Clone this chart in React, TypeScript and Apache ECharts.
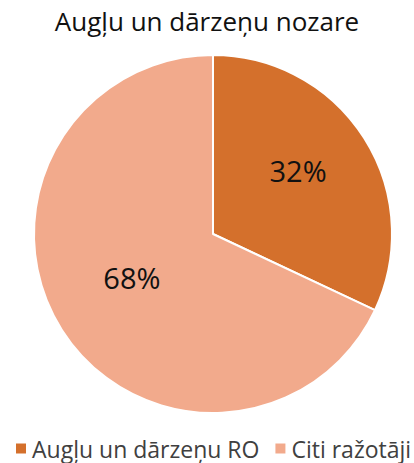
import React, { useEffect, useRef } from "react";
import * as echarts from "echarts";

const title = "Augļu un dārzeņu nozare";
const categories = ["Augļu un dārzeņu RO", "Citi ražotāji"];
const values = [32, 68];
const colors = ["#D4702C", "#F2AA8C"];

export default function App() {
  const ref = useRef<HTMLDivElement>(null);
  useEffect(() => {
    if (!ref.current) return;
    const chart = echarts.init(ref.current, null, { renderer: "svg" });
    const font = "'Open Sans', 'Noto Sans', sans-serif";
    const offsets = [[7, -14], [-3, -6]];
    chart.setOption({
      animation: false,
      title: {
        text: title,
        left: "center",
        top: 3,
        textStyle: { fontFamily: font, fontSize: 26, fontWeight: "normal", color: "#111" },
      },
      legend: {
        bottom: 3,
        left: 14,
        width: 400,
        padding: 0,
        icon: "rect",
        itemWidth: 12,
        itemHeight: 12,
        itemGap: 14,
        textStyle: { fontFamily: font, fontSize: 23, color: "#404040" },
        data: categories,
      },
      series: [
        {
          type: "pie",
          center: [213, 234],
          radius: 179,
          startAngle: 90,
          clockwise: true,
          data: categories.map((c, i) => ({
            name: c,
            value: values[i],
            itemStyle: { color: colors[i] },
            label: { offset: offsets[i] },
          })),
          itemStyle: { borderColor: "#fff", borderWidth: 2 },
          label: {
            position: "inside",
            formatter: "{d}%",
            fontFamily: font,
            fontSize: 29,
            color: "#111",
          },
          labelLine: { show: false },
        },
      ],
    });
    return () => chart.dispose();
  }, []);
  return <div ref={ref} style={{ width: 414, height: 463, position: "absolute", left: 0, top: 0 }} />;
}
